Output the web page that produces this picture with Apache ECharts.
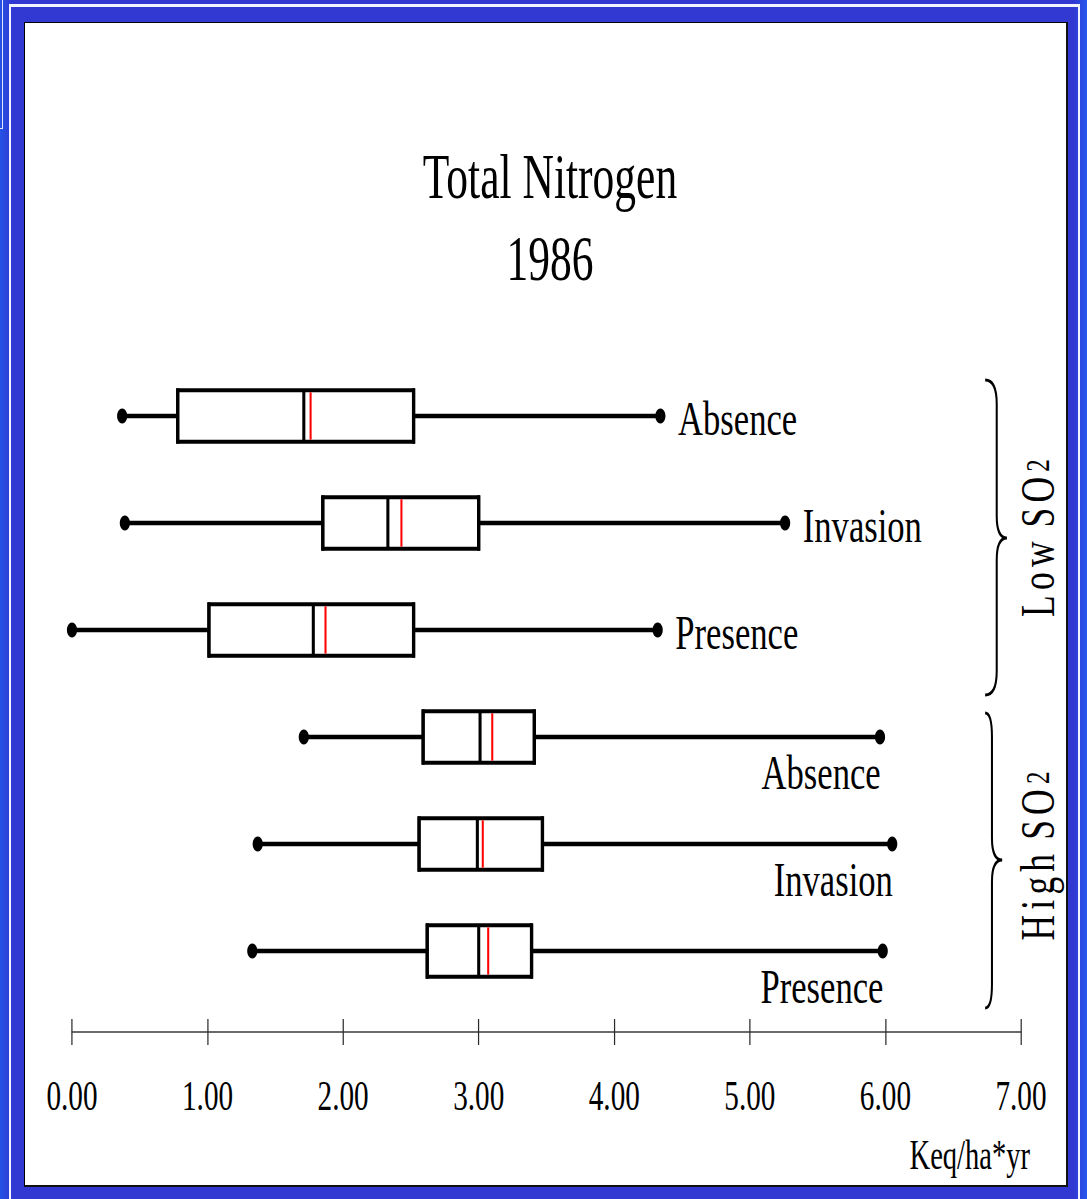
<!DOCTYPE html>
<html>
<head>
<meta charset="utf-8">
<title>Total Nitrogen 1986</title>
<script src="https://cdn.jsdelivr.net/npm/echarts@6/dist/echarts.min.js"></script>
<style>
  html, body { margin: 0; width: 1087px; height: 1199px; overflow: hidden; }
  body {
    position: relative;
    background: linear-gradient(90deg, #2553e6 0px, #3139d2 12px, #3139d2 1074px, #2659ee 1087px);
  }
  #frameLine {
    position: absolute; left: 9px; top: 4px; width: 1071px; height: 1300px;
    box-sizing: border-box;
    border-left: 2px solid #f2f4ff; border-right: 2px solid #f2f4ff; border-top: 3px solid #f2f4ff;
  }
  #corner {
    position: absolute; left: 0; top: 0; width: 2px; height: 128px;
    border-right: 1px solid #dfe5ff; border-bottom: 1px solid #dfe5ff;
  }
  #panel {
    position: absolute; left: 24px; top: 22px; width: 1044px; height: 1165px;
    box-sizing: border-box; background: #fff; overflow: hidden;
    border-left: 1px solid #000; border-top: 1px solid #000;
    border-right: 2px solid #111; border-bottom: 2px solid #111;
  }
  /* the slide uses a condensed serif face: the drawing is set wide and narrowed */
  #chart {
    position: absolute; left: 0; top: 0; width: 1531px; height: 1162px;
    transform: scaleX(0.68); transform-origin: 0 0;
  }
</style>
</head>
<body>
<div id="frameLine"></div>
<div id="corner"></div>
<div id="panel"><div id="chart"></div></div>
<script>
// Total nitrogen deposition (Keq/ha*yr), 1986, by SO2 level and invasion status
const treatments  = ['Absence', 'Invasion', 'Presence', 'Absence', 'Invasion', 'Presence'];
const so2Level    = ['Low', 'Low', 'Low', 'High', 'High', 'High'];
const whiskerLow  = [0.37, 0.39, 0.00, 1.71, 1.37, 1.33];
const quartile1   = [0.78, 1.85, 1.01, 2.59, 2.56, 2.62];
const medians     = [1.71, 2.33, 1.78, 3.01, 2.99, 3.00];
const means       = [1.76, 2.43, 1.87, 3.10, 3.03, 3.07];
const quartile3   = [2.52, 3.00, 2.52, 3.41, 3.47, 3.39];
const whiskerHigh = [4.34, 5.26, 4.32, 5.96, 6.05, 5.98];
const axisMin = 0, axisMax = 7, axisStep = 1;
const axisUnit = 'Keq/ha*yr';
const titleText = 'Total Nitrogen\n1986';

const SQ = 0.68;               // horizontal narrowing applied to the drawing
const SERIF = '"Liberation Serif", "Times New Roman", serif';

const rowNames = treatments.map((t, i) => so2Level[i] + ' SO2 ' + t);
const boxData = treatments.map((t, i) =>
  [i, whiskerLow[i], quartile1[i], medians[i], means[i], quartile3[i], whiskerHigh[i]]);
const dotData = [];
treatments.forEach((t, i) => { dotData.push([whiskerLow[i], i]); dotData.push([whiskerHigh[i], i]); });

function renderBox(params, api) {
  const row = api.value(0);
  const pLow = api.coord([api.value(1), row]);
  const pQ1 = api.coord([api.value(2), row]);
  const pMed = api.coord([api.value(3), row]);
  const pMean = api.coord([api.value(4), row]);
  const pQ3 = api.coord([api.value(5), row]);
  const pHigh = api.coord([api.value(6), row]);
  const band = api.size([0, 1])[1];
  const half = band * 0.24;
  const yc = pLow[1];
  const black = '#000';
  const high = so2Level[row] === 'High';
  const label = high
    ? { x: pHigh[0] + 1, y: yc + 36, align: 'right' }
    : { x: pHigh[0] + 26, y: yc + 3, align: 'left' };
  return {
    type: 'group',
    children: [
      { type: 'line', shape: { x1: pLow[0], y1: yc, x2: pQ1[0], y2: yc },
        style: { stroke: black, lineWidth: 4.5 } },
      { type: 'line', shape: { x1: pQ3[0], y1: yc, x2: pHigh[0], y2: yc },
        style: { stroke: black, lineWidth: 4.5 } },
      { type: 'rect', shape: { x: pQ1[0], y: yc - half, width: pQ3[0] - pQ1[0], height: 2 * half },
        style: { fill: '#fff', stroke: black, lineWidth: 4 } },
      { type: 'line', shape: { x1: pQ1[0], y1: yc - half - 2, x2: pQ1[0], y2: yc + half + 2 },
        style: { stroke: black, lineWidth: 5 } },
      { type: 'line', shape: { x1: pQ3[0], y1: yc - half - 2, x2: pQ3[0], y2: yc + half + 2 },
        style: { stroke: black, lineWidth: 5 } },
      { type: 'line', shape: { x1: pMed[0], y1: yc - half, x2: pMed[0], y2: yc + half },
        style: { stroke: black, lineWidth: 4.5 } },
      { type: 'line', shape: { x1: pMean[0], y1: yc - half + 2, x2: pMean[0], y2: yc + half - 2 },
        style: { stroke: '#ff0000', lineWidth: 3 } },
      { type: 'text', x: label.x, y: label.y, scaleX: 1.06,
        style: { text: treatments[row], x: 0, y: 0, align: label.align,
                 verticalAlign: 'middle', fill: black, font: '48px ' + SERIF } }
    ]
  };
}

// curly brace opening toward the group label, in drawing pixels
function bracePath(xe, xb, xt, y0, ym, y1, r, rt) {
  return `M${xe},${y0} Q${xb},${y0} ${xb},${y0 + r} L${xb},${ym - rt} ` +
         `Q${xb},${ym} ${xt},${ym} Q${xb},${ym} ${xb},${ym + rt} ` +
         `L${xb},${y1 - r} Q${xb},${y1} ${xe},${y1}`;
}
function renderBraces() {
  const style = { stroke: '#000', lineWidth: 3, fill: 'none' };
  return {
    type: 'group',
    children: [
      { type: 'path', shape: { pathData: bracePath(1412, 1429, 1444, 357, 515, 672, 24, 22) }, style },
      { type: 'path', shape: { pathData: bracePath(1412, 1422, 1437, 690, 837, 985, 24, 22) }, style }
    ]
  };
}

function groupLabel(word, cy) {
  const chars = word.split('').map(c => c === ' ' ? ' ' : `{c|${c}}`).join('');
  return {
    type: 'text',
    x: 1489, y: cy,
    rotation: Math.PI / 2,
    scaleX: 0.74, scaleY: 1 / SQ,
    style: {
      text: chars + '{s|2}',
      align: 'center', verticalAlign: 'middle',
      font: '48px ' + SERIF, fill: '#000',
      rich: {
        c: { fontSize: 48, fontFamily: SERIF, fill: '#000', padding: [0, 3.5, 0, 3.5] },
        s: { fontSize: 34, fontFamily: SERIF, fill: '#000', padding: [0, 3.5, 0, 3.5] }
      }
    }
  };
}

const chart = echarts.init(document.getElementById('chart'), null, { renderer: 'svg' });
const tickAxis = {
  type: 'value', min: axisMin, max: axisMax, interval: axisStep,
  position: 'bottom', offset: 27.5,
  splitLine: { show: false }
};
chart.setOption({
  animation: false,
  backgroundColor: '#fff',
  title: {
    text: titleText,
    left: 772, top: 112.5,
    textAlign: 'center',
    padding: 0,
    textStyle: { fontFamily: SERIF, fontSize: 64, fontWeight: 'normal', color: '#000', lineHeight: 82 }
  },
  grid: { left: 69.1, right: 66.3, top: 339.5, bottom: 180.5, containLabel: false },
  xAxis: [
    Object.assign({}, tickAxis, {
      axisLine: { show: true, lineStyle: { color: '#3a3a3a', width: 1.5 } },
      axisTick: { show: true, inside: false, length: 13, lineStyle: { color: '#2a2a2a', width: 1.8 } },
      axisLabel: { show: true, margin: 42, color: '#000', fontFamily: SERIF, fontSize: 43,
                   formatter: v => v.toFixed(2) }
    }),
    Object.assign({}, tickAxis, {
      axisLine: { show: false },
      axisTick: { show: true, inside: true, length: 13, lineStyle: { color: '#2a2a2a', width: 1.8 } },
      axisLabel: { show: false }
    })
  ],
  yAxis: {
    type: 'category', data: rowNames, inverse: true, boundaryGap: true, show: false
  },
  graphic: [
    groupLabel('Low SO', 515),
    groupLabel('High SO', 833),
    { type: 'text', x: 1478, y: 1132,
      style: { text: axisUnit, align: 'right', verticalAlign: 'middle',
               font: '42px ' + SERIF, fill: '#000' } }
  ],
  series: [
    { type: 'custom', name: 'boxes', xAxisIndex: 0, renderItem: renderBox,
      encode: { x: [1, 2, 3, 4, 5, 6], y: 0 }, data: boxData, z: 2 },
    { type: 'scatter', name: 'whisker ends', xAxisIndex: 0, data: dotData,
      symbol: 'circle', symbolSize: 15, itemStyle: { color: '#000', opacity: 1 }, z: 3 },
    { type: 'custom', name: 'braces', coordinateSystem: 'none', renderItem: renderBraces,
      data: [[0]], silent: true }
  ]
});
</script>
</body>
</html>
